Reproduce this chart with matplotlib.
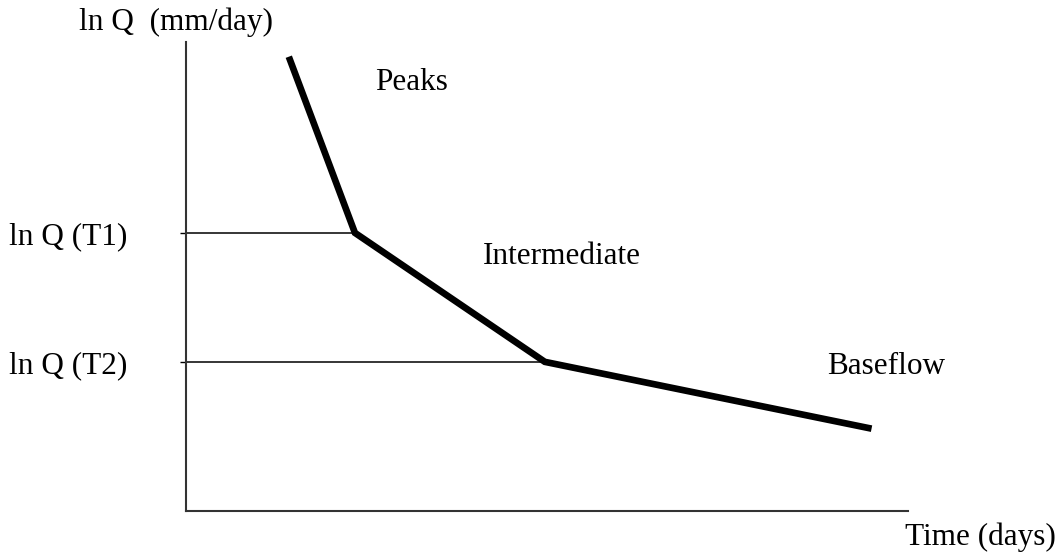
import matplotlib
matplotlib.use("Agg")
import matplotlib.pyplot as plt

# recession curve breakpoints (schematic units, 0-100 on both axes)
time_pts = [14.4, 23.4, 49.7, 94.5]
lnq_pts = [96.2, 59.3, 31.8, 17.7]

tick_vals = [59.3, 31.8]
tick_labels = ["ln Q (T1)", "ln Q (T2)"]

segment_names = ["Peaks", "Intermediate", "Baseflow"]
segment_x = [26.2, 41.1, 88.8]
segment_y = [91.3, 54.2, 30.9]

plt.rcParams["font.family"] = ["Liberation Serif", "DejaVu Serif"]
FS = 22.5

fig = plt.figure(figsize=(10.63, 5.55), dpi=100)
W, H = 1063, 555
ax = fig.add_axes([186 / W, (H - 511) / H, 722 / W, 469 / H])
ax.set_xlim(0, 100)
ax.set_ylim(0, 100)

# guide lines from the axis to each breakpoint
ax.plot([0, time_pts[1]], [lnq_pts[1]] * 2, color="black", lw=1.1)
ax.plot([0, time_pts[2]], [lnq_pts[2]] * 2, color="black", lw=1.1)

ax.plot(time_pts, lnq_pts, color="black", lw=4.8, solid_joinstyle="miter")

for name, x, y in zip(segment_names, segment_x, segment_y):
    ax.text(x, y, name, fontsize=FS, ha="left", va="center")

for side in ("top", "right"):
    ax.spines[side].set_visible(False)
for side in ("left", "bottom"):
    ax.spines[side].set_color("#333333")
    ax.spines[side].set_linewidth(1.5)

ax.set_xticks([])
ax.set_yticks(tick_vals)
ax.set_yticklabels(tick_labels, fontsize=FS)
ax.tick_params(axis="y", length=4, width=1, color="black", pad=38)

fig.text(176 / W, 1 - 22 / H, "ln Q  (mm/day)", fontsize=FS, ha="center", va="center")
fig.text(905 / W, 1 - 537 / H, "Time (days)", fontsize=FS, ha="left", va="center")

fig.savefig("out.png", dpi=100)
